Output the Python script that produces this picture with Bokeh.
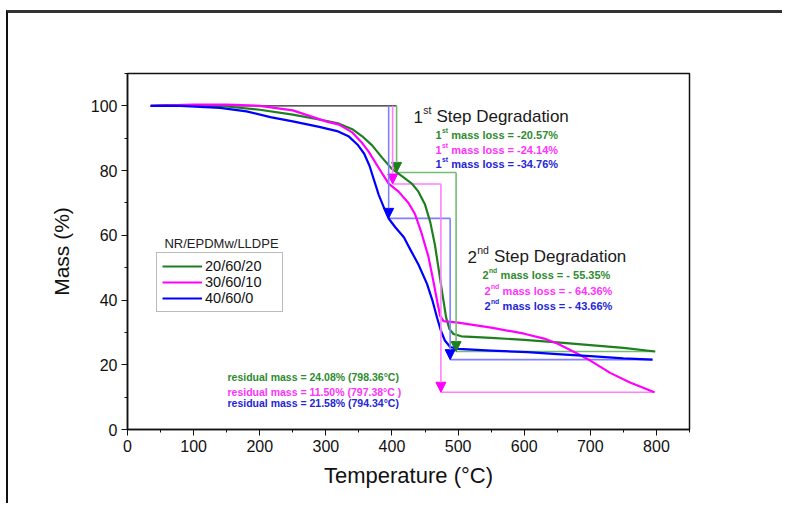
from bokeh.plotting import figure
from bokeh.models import (FixedTicker, Arrow, NormalHead, Legend, LegendItem, Range1d)
from bokeh.core.properties import value
from bokeh.embed import file_html
from bokeh.resources import INLINE

# ---------------- data ----------------
series_names = ["20/60/20", "30/60/10", "40/60/0"]
legend_title = "NR/EPDMw/LLDPE"

green_T = [35, 60, 100, 150, 200, 250, 300, 320, 340, 355, 370, 385, 400, 415, 430,
           440, 450, 458, 465, 471, 477, 482, 487, 493, 505, 550, 600, 650, 700, 750, 798]
green_M = [100.0, 100.2, 100.2, 99.8, 98.8, 97.3, 95.4, 94.5, 92.8, 90.6, 87.8, 84.0, 80.5, 78.3, 76.0,
           73.5, 69.5, 64.0, 57.0, 49.0, 41.0, 34.5, 31.0, 29.5, 28.8, 28.3, 27.7, 26.9, 26.1, 25.2, 24.1]

magenta_T = [35, 100, 150, 200, 250, 300, 320, 340, 355, 365, 380, 395, 410, 425, 435,
             445, 455, 462, 468, 473, 478, 500, 550, 600, 630, 650, 680, 700, 730, 760, 797]
magenta_M = [100.0, 100.4, 100.4, 100.0, 98.6, 95.2, 94.2, 91.8, 88.5, 85.8, 80.8, 76.0, 73.5, 70.0, 66.5,
             60.5, 53.5, 46.5, 40.0, 35.0, 33.5, 33.0, 31.5, 29.6, 28.1, 26.6, 23.5, 21.3, 17.5, 14.5, 11.5]

blue_T = [35, 80, 140, 180, 216, 250, 290, 317, 335, 348, 358, 366, 373, 380, 388, 395,
          405, 418, 428, 440, 453, 461, 468, 474, 480, 488, 500, 550, 605, 650, 706, 750, 794]
blue_M = [100.0, 100.0, 99.4, 98.3, 96.5, 95.2, 93.5, 92.2, 90.5, 88.0, 85.2, 81.5, 77.0, 72.5, 68.5, 65.2,
          62.5, 59.4, 55.5, 51.0, 45.0, 40.0, 34.7, 30.5, 27.5, 25.5, 24.9, 24.4, 23.9, 23.3, 22.6, 22.0, 21.6]

start_T = 35
step1_T = [407, 401, 395]
step1_loss = [20.57, 24.14, 34.76]
step2_T = [497, 474, 488]
step2_loss = [55.35, 64.36, 43.66]
residual = [24.08, 11.50, 21.58]
end_T = [798.36, 797.38, 794.34]

# ---------------- styling ----------------
FONT = "Liberation Sans"
curve_colors = ["#1E7F1E", "#FF00FF", "#0000FF"]
light_colors = ["#74BC74", "#FF80FF", "#8080FF"]
text_colors = ["#2E8B2E", "#FF33FF", "#2525D5"]

X0, X1, Y0, Y1 = 0, 850, 0, 110
FRAME_W, FRAME_H = 562, 356
FX = FRAME_W / (X1 - X0)
FY = FRAME_H / (Y1 - Y0)
LEFT_PX, BOTTOM_PX = 127, 429   # frame position in page pixels

# page offset of figure content (margin + border)
OFF_X, OFF_Y = 8, 13
W, H = 776, 493


def tx(px):
    return X0 + (px - LEFT_PX) / FX


def ty(py):
    return Y0 + (BOTTOM_PX - py) / FY


p = figure(width=W, height=H, output_backend="svg", toolbar_location=None,
           x_range=Range1d(X0, X1), y_range=Range1d(Y0, Y1),
           min_border_left=LEFT_PX - OFF_X, min_border_top=(BOTTOM_PX - FRAME_H) - OFF_Y,
           min_border_right=OFF_X + W - (LEFT_PX + FRAME_W),
           min_border_bottom=OFF_Y + H - BOTTOM_PX)
p.styles = {"border-top": "3px solid #333333", "border-left": "2px solid #111111",
            "margin-top": "10px", "margin-left": "6px"}
p.xgrid.visible = False
p.ygrid.visible = False
p.outline_line_color = "#111111"
p.outline_line_width = 1.5
p.background_fill_color = "white"
p.border_fill_color = "white"

p.xaxis.ticker = FixedTicker(ticks=list(range(0, 801, 100)), minor_ticks=list(range(0, 851, 50)))
p.yaxis.ticker = FixedTicker(ticks=list(range(0, 101, 20)), minor_ticks=list(range(0, 111, 10)))
for ax in (p.xaxis[0], p.yaxis[0]):
    ax.major_tick_out = 6
    ax.major_tick_in = 0
    ax.minor_tick_out = 3
    ax.minor_tick_in = 0
    ax.axis_line_width = 1.5
    ax.axis_line_color = "#111111"
    ax.major_tick_line_color = "#111111"
    ax.minor_tick_line_color = "#111111"
    ax.major_label_text_font = FONT
    ax.major_label_text_font_size = "16px"
    ax.major_label_text_color = "#111111"
    ax.axis_label_text_font = FONT
    ax.axis_label_text_font_style = "normal"
    ax.axis_label_text_color = "#111111"
p.xaxis.axis_label_text_font_size = "22px"
p.yaxis.axis_label_text_font_size = "21px"
p.xaxis.axis_label = "Temperature (°C)"
p.yaxis.axis_label = "Mass (%)"
p.xaxis.major_label_standoff = 4
p.yaxis.major_label_standoff = 4
p.xaxis.axis_label_standoff = 8
p.yaxis.axis_label_standoff = 15

# ---------------- step annotation lines ----------------
m1 = [100 - l for l in step1_loss]
p.line([start_T, max(step1_T)], [100, 100], line_color="#222222", line_width=1.3)
for i in range(3):
    p.line([step1_T[i], step2_T[i]], [m1[i], m1[i]], line_color=light_colors[i], line_width=1.6)
    p.line([step2_T[i], end_T[i]], [residual[i], residual[i]], line_color=light_colors[i], line_width=1.6)

for i in range(3):
    for (xs, ys, ye) in ((step1_T[i], 100, m1[i]), (step2_T[i], m1[i], residual[i])):
        p.add_layout(Arrow(end=NormalHead(size=10, fill_color=curve_colors[i],
                                          line_color=curve_colors[i], line_width=1),
                           x_start=xs, y_start=ys, x_end=xs, y_end=ye,
                           line_color=light_colors[i], line_width=1.6))

# ---------------- curves ----------------
curves = []
for T, M, c in ((green_T, green_M, curve_colors[0]),
                (magenta_T, magenta_M, curve_colors[1]),
                (blue_T, blue_M, curve_colors[2])):
    curves.append(p.line(T, M, line_color=c, line_width=2.2, line_join="round"))

legend = Legend(items=[LegendItem(label=n, renderers=[r]) for n, r in zip(series_names, curves)],
                location=(29, 117), label_text_font=FONT, label_text_font_size="14.5px",
                label_text_color="#111111", glyph_width=40, glyph_height=14, label_height=14,
                label_width=72, label_standoff=3, spacing=0, padding=5, margin=0,
                border_line_color="#777777", border_line_width=1, background_fill_alpha=1)
p.add_layout(legend, "center")

p.text(x=[tx(221)], y=[ty(243)], text=[legend_title], text_font=value(FONT),
       text_font_size="13px", text_color="#222222", text_align="center",
       text_baseline="alphabetic")

# ---------------- texts with superscripts ----------------
REG_W = {"1": .556, "2": .556, "s": .5, "t": .278, "n": .556, "d": .556, " ": .278}
BOLD_W = {"1": .556, "2": .556, "s": .556, "t": .333, "n": .611, "d": .611, " ": .278}


def sup_label(px, py, lead, sup, rest, size, color, bold=False):
    w = BOLD_W if bold else REG_W
    sup_size = size * 0.62
    w_lead = sum(w[c] for c in lead) * size
    w_sup = sum(w[c] for c in sup) * sup_size
    n_space = len(rest) - len(rest.lstrip(" "))
    w_space = n_space * w[" "] * size
    style = "bold" if bold else "normal"
    x = tx(px)
    y = ty(py)
    common = dict(text_font=value(FONT), text_color=color, text_align="left",
                  text_baseline="alphabetic", text_font_style=style)
    p.text(x=[x], y=[y], text=[lead], text_font_size=f"{size}px", **common)
    p.text(x=[x], y=[y + 0.40 * size / FY], text=[sup], x_offset=w_lead + 0.3,
           text_font_size=f"{sup_size:.1f}px", **common)
    p.text(x=[x], y=[y], text=[rest.lstrip(" ")], x_offset=w_lead + w_sup + w_space + 0.6,
           text_font_size=f"{size}px", **common)


sup_label(413, 116, "1", "st", " Step Degradation", 17, "#1a1a1a")
sup_label(467, 256, "2", "nd", " Step Degradation", 17, "#1a1a1a")

for i, py in enumerate([134, 149, 163]):
    sup_label(435, py, "1", "st", f" mass loss = -{step1_loss[i]:.2f}%", 11, text_colors[i], bold=True)
for i, (px, py) in enumerate([(482, 274), (484, 290), (484, 305)]):
    sup_label(px, py, "2", "nd", f" mass loss = - {step2_loss[i]:.2f}%", 11, text_colors[i], bold=True)

res_texts = [f"residual mass = {residual[0]:.2f}% ({end_T[0]:.2f}°C)",
             f"residual mass = {residual[1]:.2f}% ({end_T[1]:.2f}°C )",
             f"residual mass = {residual[2]:.2f}% ({end_T[2]:.2f}°C)"]
for i, py in enumerate([376, 391, 402]):
    p.text(x=[tx(227)], y=[ty(py)], text=[res_texts[i]], text_font=value(FONT),
           text_font_size="10.5px", text_font_style="bold", text_color=text_colors[i],
           text_align="left", text_baseline="alphabetic")

open("out.html", "w").write(file_html(p, INLINE))
